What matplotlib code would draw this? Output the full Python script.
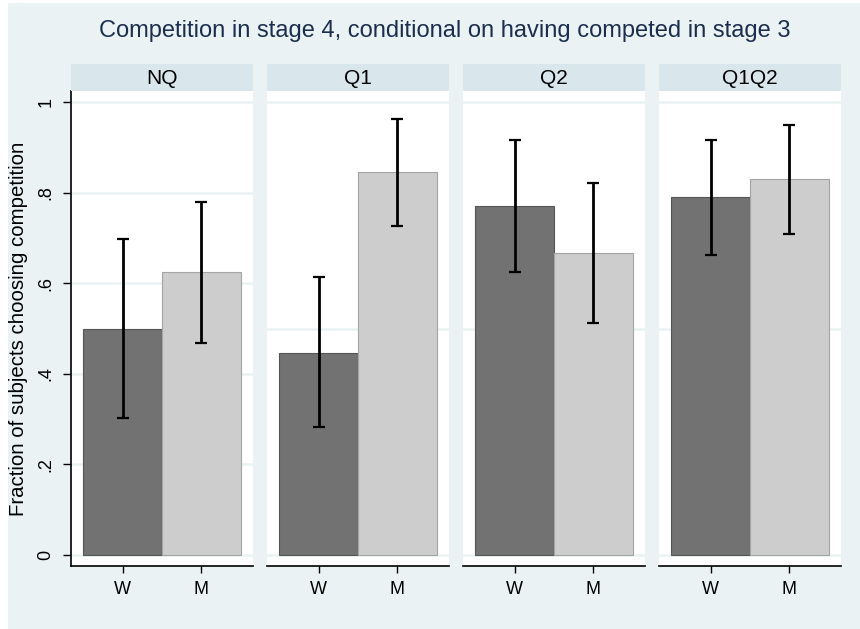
import numpy as np
import matplotlib
matplotlib.use('Agg')
import matplotlib.pyplot as plt
from matplotlib.patches import Rectangle

plt.rcParams['font.family'] = ['Liberation Sans', 'DejaVu Sans']

# data
panels = ['NQ', 'Q1', 'Q2', 'Q1Q2']
groups = ['W', 'M']
means_w = [0.500, 0.447, 0.770, 0.790]
means_m = [0.624, 0.845, 0.666, 0.829]
lo_w = [0.302, 0.282, 0.625, 0.663]
hi_w = [0.697, 0.613, 0.916, 0.916]
lo_m = [0.468, 0.727, 0.512, 0.709]
hi_m = [0.780, 0.963, 0.821, 0.949]
yticks_first = [0, 0.2, 0.4, 0.6, 0.8, 1]
yticklabels_first = ['0', '.2', '.4', '.6', '.8', '1']
grid_other = [0, 0.5, 1]

bg = '#EAF2F3'
strip_col = '#D9E6EB'
w_col = '#727272'
m_col = '#CDCDCD'

W, H = 860, 629
fig = plt.figure(figsize=(8.6, 6.29), dpi=100, facecolor='white')
fig.patches.append(Rectangle((8 / W, 0), 1 - 8 / W, 1 - 3 / H, transform=fig.transFigure,
                             facecolor=bg, edgecolor='none', zorder=-10))

def px(x0, y_top, w, h):
    return [x0 / W, 1 - (y_top + h) / H, w / W, h / H]

lefts = [71, 267, 463, 659]
pw = 182
for i, name in enumerate(panels):
    ax = fig.add_axes(px(lefts[i], 91, pw, 475))
    ax.set_facecolor('white')
    x = np.arange(len(groups))
    vals = [means_w[i], means_m[i]]
    lows = [lo_w[i], lo_m[i]]
    highs = [hi_w[i], hi_m[i]]
    ax.bar(x[0], vals[0], width=1, color=w_col, edgecolor='#555555', linewidth=0.8, zorder=2)
    ax.bar(x[1], vals[1], width=1, color=m_col, edgecolor='#A4A4A4', linewidth=0.8, zorder=2)
    for j in range(2):
        ax.errorbar(x[j], vals[j],
                    yerr=[[vals[j] - lows[j]], [highs[j] - vals[j]]],
                    fmt='none', ecolor='black', elinewidth=2, capsize=4.5, capthick=1.6, zorder=3)
    ax.set_xlim(-0.652, 1.652)
    ax.set_ylim(-0.0243, 1.0243)
    gl = yticks_first if i == 0 else grid_other
    for g in gl:
        ax.axhline(g, color=bg, linewidth=1.8, zorder=1)
    ax.set_xticks(x)
    ax.set_xticklabels(groups, fontsize=13)
    ax.tick_params(axis='x', length=5, width=1, pad=6, colors='black')
    for s in ['top', 'right']:
        ax.spines[s].set_visible(False)
    ax.spines['bottom'].set_linewidth(1.2)
    if i == 0:
        ax.set_yticks(yticks_first)
        ax.set_yticklabels(yticklabels_first, fontsize=13, rotation=90, va='center')
        ax.tick_params(axis='y', length=6, width=1, pad=6)
        ax.spines['left'].set_linewidth(1.2)
        ax.set_ylabel('Fraction of subjects choosing competition', fontsize=14.7, labelpad=7)
    else:
        ax.spines['left'].set_visible(False)
        ax.set_yticks([])

    sx = fig.add_axes(px(lefts[i], 64, pw, 27))
    sx.set_facecolor(strip_col)
    sx.set_xticks([])
    sx.set_yticks([])
    for s in sx.spines.values():
        s.set_visible(False)
    sx.text(0.5, 0.48, name, ha='center', va='center', fontsize=15, transform=sx.transAxes)

fig.text(445 / W, 1 - 31 / H, 'Competition in stage 4, conditional on having competed in stage 3',
         ha='center', va='center', fontsize=17, color='#1C2E4E')

fig.savefig('out.png', dpi=100, facecolor=fig.get_facecolor())
